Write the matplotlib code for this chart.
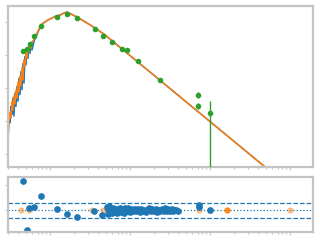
import numpy as np
import matplotlib
matplotlib.use("Agg")
import matplotlib.pyplot as plt
from matplotlib.ticker import NullLocator, MultipleLocator

# spectrum (log10 wavelength, log10 flux)
log_wave_obs = [-1.525, -1.5125, -1.5, -1.4875, -1.475, -1.4625, -1.45, -1.4375, -1.425,
                -1.4125, -1.4, -1.3875, -1.375, -1.3625, -1.35, -1.3375, -1.325, -1.3125,
                -1.3, -1.2875, -1.275, -1.2625, -1.25, -1.2375, -1.225, -1.2, -1.175, -1.15,
                -1.125, -1.1, -1.0625, -1.025, -0.975, -0.925, -0.875, -0.825, -0.7875,
                -0.6625, -0.5375, -0.4375, -0.3125, 1.9375]
log_flux_obs = [-2.73, -1.85, -2.05, -1.55, -1.80, -1.30, -1.85, -1.15, -1.55,
                -0.95, -1.40, -0.70, -1.20, -0.50, -1.05, -0.25, -0.85, -0.05,
                -0.30, 0.15, -0.10, 0.25, 0.05, 0.38, 0.15, 0.42, 0.55, 0.70,
                0.82, 0.94, 1.00, 1.06, 1.12, 1.18, 1.21, 1.27, 1.30,
                1.15, 0.97, 0.82, 0.61, -3.89]

log_wave_mod = [-1.525, -1.5125, -1.5, -1.4875, -1.475, -1.4625, -1.45, -1.4375, -1.425,
                -1.4125, -1.4, -1.3875, -1.375, -1.3625, -1.35, -1.3375, -1.325, -1.3125,
                -1.3, -1.2875, -1.275, -1.2625, -1.25, -1.2375, -1.225, -1.2, -1.175, -1.15,
                -1.125, -1.1, -1.0625, -1.025, -0.975, -0.925, -0.875, -0.825, -0.7875,
                -0.6625, -0.5375, -0.4375, -0.3125, 1.9375]
log_flux_mod = [-2.42, -2.03, -1.73, -1.91, -1.42, -1.67, -1.24, -1.48, -1.06,
                -1.30, -0.82, -1.12, -0.64, -0.94, -0.39, -0.76, -0.15, -0.33,
                0.09, -0.09, 0.21, 0.09, 0.33, 0.21, 0.39, 0.48, 0.61, 0.73,
                0.85, 0.94, 1.00, 1.06, 1.12, 1.18, 1.21, 1.27, 1.30,
                1.15, 0.97, 0.82, 0.61, -3.89]

# photometry
phot_wave = [0.0460, 0.0516, 0.0562, 0.0631, 0.0772, 0.122, 0.163, 0.218, 0.365,
             0.460, 0.596, 0.794, 0.917, 1.26, 2.37, 7.08, 7.08, 10.0]
phot_flux = [1.32, 1.52, 2.15, 3.77, 7.57, 14.2, 17.5, 13.2, 6.14,
             3.77, 2.48, 1.52, 1.42, 0.658, 0.175, 0.0614, 0.0285, 0.0175]
phot_err_lo = [0.05, 0.05, 0.08, 0.1, 0.2, 0.3, 0.4, 0.3, 0.1,
               0.08, 0.05, 0.04, 0.04, 0.02, 0.005, 0.012, 0.006, 0.03]
phot_err_hi = [0.05, 0.05, 0.08, 0.1, 0.2, 0.3, 0.4, 0.3, 0.1,
               0.08, 0.05, 0.04, 0.04, 0.02, 0.005, 0.014, 0.007, 0.023]

# residuals (log10 wavelength)
log_wave_res = [-1.3375, -1.2875, -1.1125, -1.2625, -1.2, -0.9125, -0.7875, -0.6625,
                -0.45, -0.35, 0.8625, 0.8625, 1.0,
                -0.29, -0.28, -0.27, -0.26, -0.25, -0.24, -0.225, -0.21, -0.195, -0.18,
                -0.165, -0.15, -0.13, -0.115, -0.10, -0.08, -0.06, -0.04, -0.02, 0.00,
                0.02, 0.04, 0.06, 0.08, 0.10, 0.12, 0.14, 0.16, 0.18, 0.20, 0.22, 0.24,
                0.26, 0.28, 0.30, 0.32, 0.34, 0.36, 0.38, 0.40, 0.42, 0.44, 0.46, 0.48,
                0.50, 0.52, 0.54, 0.56, 0.58, 0.60]
resid = [1.16, -0.80, 0.56, 0.08, 0.12, 0.04, -0.16, -0.28,
         -0.04, -0.20, 0.22, 0.13, 0.0,
         0.12, -0.14, 0.05, 0.16, -0.08, 0.02, -0.12, 0.10, -0.04, 0.06,
         -0.10, 0.03, 0.08, -0.06, 0.00, -0.10, 0.07, -0.03, 0.09, -0.08,
         0.04, -0.05, 0.06, -0.02, 0.03, -0.07, 0.05, -0.04, 0.02, -0.06, 0.04, 0.08,
         -0.05, 0.03, -0.03, 0.06, -0.06, 0.02, -0.04, 0.05, -0.02, 0.10, -0.05, 0.03,
         -0.04, 0.04, -0.03, 0.02, 0.00, -0.02]
log_wave_lim = [-1.3625, -1.2625, -0.475, -0.3375, 0.35, 0.8625, 1.0, 2.0]
resid_lim = [0.0, 0.0, 0.0, 0.0, 0.0, 0.0, 0.0, 0.0]
log_wave_lim2 = [1.2125]
resid_lim2 = [0.0]
sigma_band = 0.3

SPINE = "#c4c4c4"

fig = plt.figure(figsize=(3.2, 2.4), dpi=100)
ax = fig.add_axes([0.025, 0.304, 0.953, 0.671])
axr = fig.add_axes([0.025, 0.033, 0.953, 0.229])

ax.plot(10 ** np.array(log_wave_obs), 10 ** np.array(log_flux_obs), color="C0", lw=1.1)
ax.plot(10 ** np.array(log_wave_mod), 10 ** np.array(log_flux_mod), color="C1", lw=1.1)
ax.errorbar(phot_wave, phot_flux, yerr=[phot_err_lo, phot_err_hi], fmt="o", color="C2",
            ms=3.0, elinewidth=1.0, capsize=0, zorder=3)
ax.set_xscale("log")
ax.set_yscale("log")
ax.set_xlim(10 ** -1.525, 10 ** 2.2875)
ax.set_ylim(10 ** -3.394, 10 ** 1.485)
ax.yaxis.set_minor_locator(NullLocator())

axr.axhline(sigma_band, color="C0", ls="--", lw=0.9)
axr.axhline(-sigma_band, color="C0", ls="--", lw=0.9)
axr.axhline(0, color="C0", ls=":", lw=0.9)
axr.plot(10 ** np.array(log_wave_lim), resid_lim, "o", color="C1", ms=3.5, alpha=0.4)
axr.plot(10 ** np.array(log_wave_lim2), resid_lim2, "o", color="C1", ms=3.5, alpha=0.9)
axr.plot(10 ** np.array(log_wave_res), resid, "o", color="C0", ms=3.8)
axr.set_xscale("log")
axr.set_xlim(10 ** -1.525, 10 ** 2.2875)
axr.set_ylim(-0.88, 1.32)
axr.yaxis.set_major_locator(MultipleLocator(1))

for a in (ax, axr):
    for s in a.spines.values():
        s.set_color(SPINE)
        s.set_linewidth(1.6)
    a.tick_params(which="both", colors=SPINE, labelleft=False, labelbottom=False,
                  length=2.5, width=0.8)
    a.tick_params(which="minor", length=1.5)

fig.savefig("out.png", dpi=100)
